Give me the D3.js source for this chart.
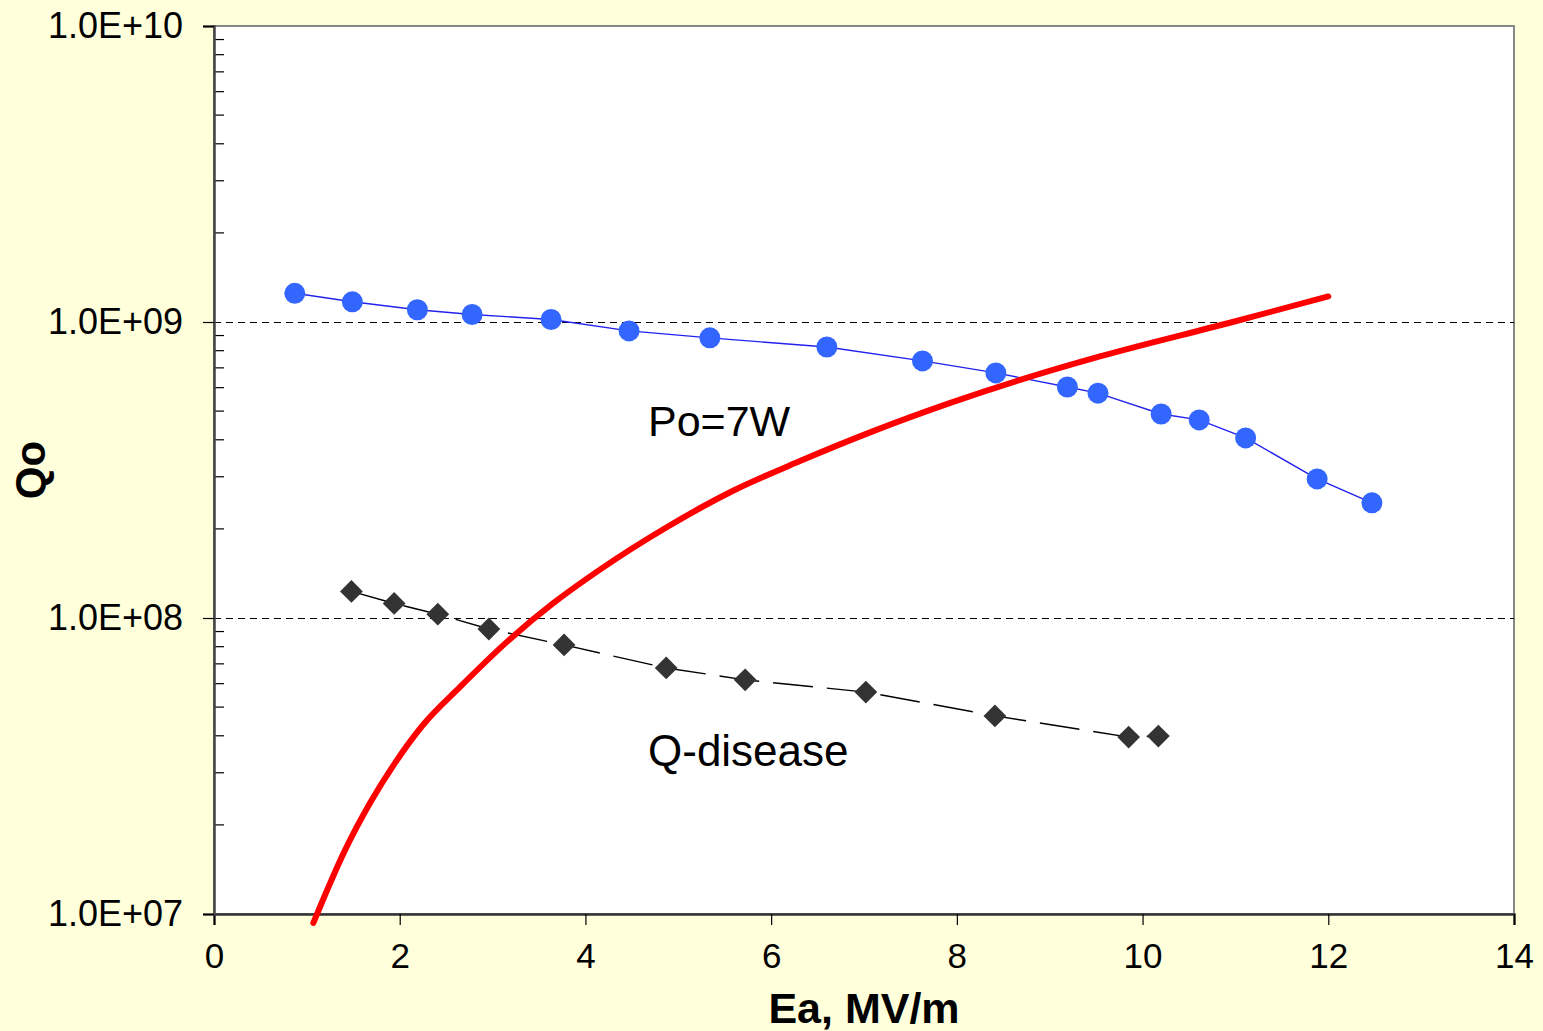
<!DOCTYPE html>
<html>
<head>
<meta charset="utf-8">
<script src="https://d3js.org/d3.v7.min.js"></script>
<style>
  body { margin: 0; background: #FFFFDB; }
  svg { display: block; font-family: "Liberation Sans", Arial, sans-serif; }
</style>
</head>
<body>
<script>
// Po=7W measured points (blue circles)
var eaPo = [0.87, 1.49, 2.19, 2.78, 3.63, 4.47, 5.34, 6.60, 7.63, 8.42, 9.19, 9.52, 10.20, 10.61, 11.11, 11.88, 12.47];
var qPo  = [1.25e9, 1.17e9, 1.10e9, 1.06e9, 1.02e9, 9.33e8, 8.84e8, 8.23e8, 7.39e8, 6.73e8, 6.03e8, 5.75e8, 4.89e8, 4.67e8, 4.06e8, 2.95e8, 2.45e8];

// Q-disease points (dark diamonds)
var eaDis = [1.48, 1.94, 2.41, 2.96, 3.77, 4.87, 5.72, 7.02, 8.41, 9.85, 10.17];
var qDis  = [1.23e8, 1.12e8, 1.03e8, 9.18e7, 8.11e7, 6.78e7, 6.18e7, 5.62e7, 4.67e7, 3.96e7, 3.99e7];

// red limit curve
var eaLim = [1.07, 1.41, 1.68, 1.95, 2.25, 2.65, 3.19, 3.65, 4.16, 4.88, 5.59, 6.31, 7.10, 7.93, 8.70, 9.54, 10.97, 12.0];
var qLim  = [9.33e6, 1.64e7, 2.37e7, 3.24e7, 4.35e7, 5.85e7, 8.5e7, 1.12e8, 1.46e8, 2.03e8, 2.69e8, 3.39e8, 4.28e8, 5.33e8, 6.4e8, 7.65e8, 1.0e9, 1.22e9];

var xTicks = [0, 2, 4, 6, 8, 10, 12, 14];
var yTicks = [1e7, 1e8, 1e9, 1e10];
var gridQ = [1e8, 1e9];

var width = 1543, height = 1031;
var margin = {left: 214, top: 26, right: 29, bottom: 117};
var w = width - margin.left - margin.right,
    h = height - margin.top - margin.bottom;

var svg = d3.select("body").append("svg")
    .attr("width", width)
    .attr("height", height);

svg.append("rect").attr("width", width).attr("height", height).style("fill", "#FFFFDB");

var g = svg.append("g").attr("transform", "translate(" + margin.left + "," + margin.top + ")");

var x = d3.scaleLinear().domain([0, 14]).range([0, w]);
var y = d3.scaleLog().domain([1e7, 1e10]).range([h, 0]);

// plot area
g.append("rect")
    .attr("width", w).attr("height", h)
    .style("fill", "#fff")
    .style("stroke", "#888")
    .style("stroke-width", 2);

// dashed grid
g.selectAll(".grid").data(gridQ).enter().append("line")
    .attr("x1", 0).attr("x2", w)
    .attr("y1", function(d) { return y(d) + 0.5; })
    .attr("y2", function(d) { return y(d) + 0.5; })
    .style("stroke", "#000")
    .style("stroke-width", 1)
    .style("stroke-dasharray", "7,5");

// y minor ticks (inside)
var minors = [];
[1e7, 1e8, 1e9].forEach(function(p) {
    for (var k = 2; k <= 9; k++) minors.push(p * k);
});
g.selectAll(".minor").data(minors).enter().append("line")
    .attr("x1", 0).attr("x2", 10)
    .attr("y1", function(d) { return y(d); })
    .attr("y2", function(d) { return y(d); })
    .style("stroke", "#000").style("stroke-width", 1.2);

// x axis
var xAxis = g.append("g")
    .attr("transform", "translate(0," + h + ")")
    .call(d3.axisBottom(x).tickValues(xTicks).tickSize(11).tickPadding(18).tickFormat(d3.format("d")));
xAxis.select(".domain").style("stroke", "#333").style("stroke-width", 2.5);
xAxis.selectAll(".tick line").style("stroke", "#000").style("stroke-width", 1.2);
xAxis.selectAll("text").style("font-size", "35px").style("fill", "#000")
    .style("font-family", "'Liberation Sans', Arial, sans-serif");

// y axis
var yAxis = g.append("g")
    .call(d3.axisLeft(y).tickValues(yTicks).tickSize(11).tickPadding(20)
        .tickFormat(function(d) {
            var e = Math.round(Math.log10(d));
            return "1.0E+" + (e < 10 ? "0" + e : e);
        }));
yAxis.select(".domain").style("stroke", "#444").style("stroke-width", 2.5);
yAxis.selectAll(".tick line").style("stroke", "#000").style("stroke-width", 1.2);
yAxis.selectAll("text").style("font-size", "36px").style("fill", "#000")
    .style("font-family", "'Liberation Sans', Arial, sans-serif");

// blue series
var bluePts = eaPo.map(function(e, i) { return [e, qPo[i]]; });
var line = d3.line().x(function(d) { return x(d[0]); }).y(function(d) { return y(d[1]); });

g.append("path").datum(bluePts)
    .attr("d", line)
    .style("fill", "none")
    .style("stroke", "#2222ee")
    .style("stroke-width", 1.4);

// Q-disease series
var disPts = eaDis.map(function(e, i) { return [e, qDis[i]]; });
g.append("path").datum(disPts)
    .attr("d", line)
    .style("fill", "none")
    .style("stroke", "#000")
    .style("stroke-width", 1.4)
    .style("stroke-dasharray", "40,14");

// red curve
var redPts = eaLim.map(function(e, i) { return [e, qLim[i]]; });
g.append("path").datum(redPts)
    .attr("d", d3.line().curve(d3.curveMonotoneX)
        .x(function(d) { return x(d[0]); }).y(function(d) { return y(d[1]); }))
    .style("fill", "none")
    .style("stroke", "#ff0000")
    .style("stroke-width", 6)
    .style("stroke-linecap", "round")
    .style("stroke-linejoin", "round");

g.selectAll(".dot").data(bluePts).enter().append("circle")
    .attr("cx", function(d) { return x(d[0]); })
    .attr("cy", function(d) { return y(d[1]); })
    .attr("r", 10.5)
    .style("fill", "#3366ff");

var sym = d3.symbol().type(d3.symbolSquare).size(260);
g.selectAll(".dia").data(disPts).enter().append("path")
    .attr("d", sym)
    .attr("transform", function(d) { return "translate(" + x(d[0]) + "," + y(d[1]) + ") rotate(45)"; })
    .style("fill", "#333");

// labels
svg.append("text")
    .attr("x", 648).attr("y", 436)
    .style("font-size", "43px")
    .text("Po=7W");

svg.append("text")
    .attr("x", 648).attr("y", 766)
    .style("font-size", "44px")
    .text("Q-disease");

svg.append("text")
    .attr("x", margin.left + w / 2).attr("y", 1023)
    .attr("text-anchor", "middle")
    .style("font-size", "43px").style("font-weight", "bold")
    .text("Ea, MV/m");

svg.append("text")
    .attr("transform", "translate(45,470) rotate(-90)")
    .attr("text-anchor", "middle")
    .style("font-size", "42px").style("font-weight", "bold")
    .text("Qo");
</script>
</body>
</html>
